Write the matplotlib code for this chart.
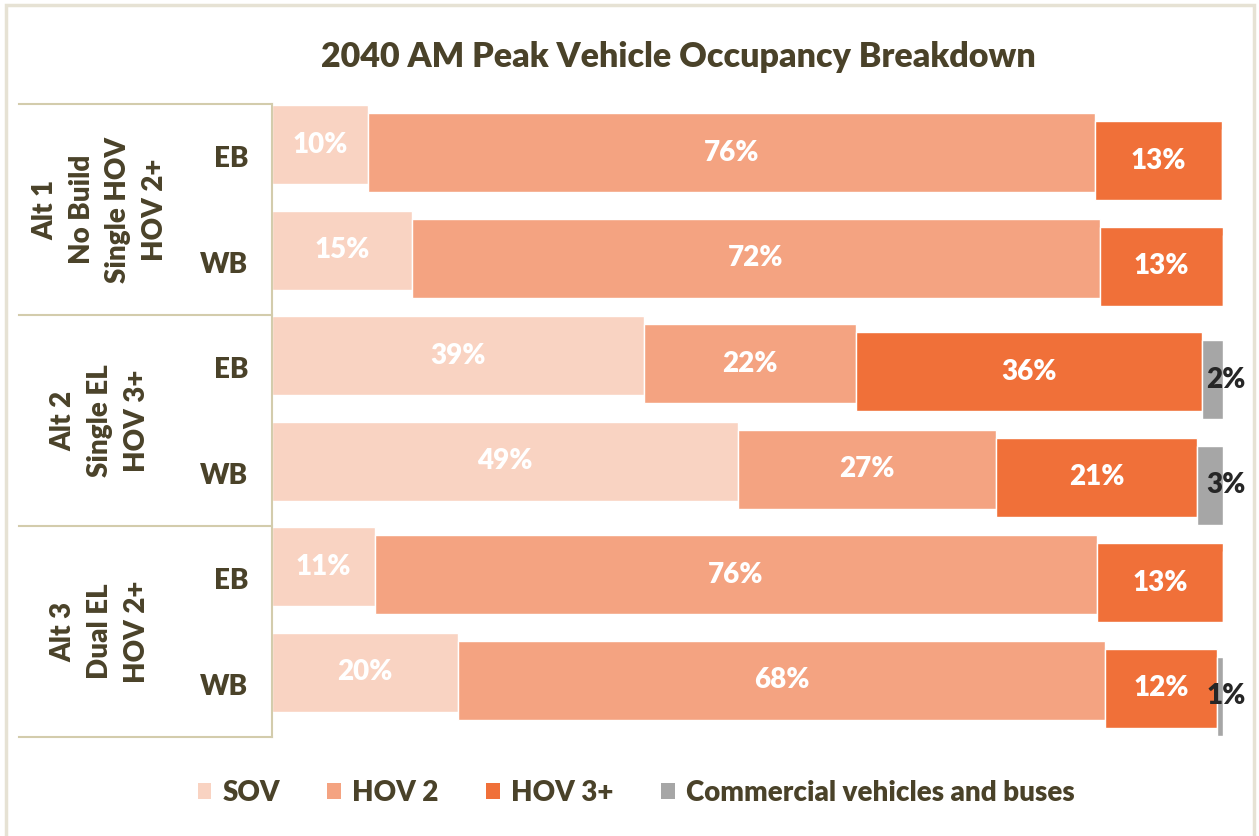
import numpy as np
import matplotlib
matplotlib.use("Agg")
import matplotlib.pyplot as plt
from matplotlib.patches import Rectangle, Patch

plt.rcParams['font.family'] = ['Lato', 'DejaVu Sans']
WT = 'heavy'

# data (percent of vehicles)
directions = ['EB', 'WB', 'EB', 'WB', 'EB', 'WB']
groups = ['Alt 1\nNo Build\nSingle HOV\nHOV 2+',
          'Alt 2\nSingle EL\nHOV 3+',
          'Alt 3\nDual EL\nHOV 2+']
sov = [10.1, 14.7, 39.1, 49.0, 10.8, 19.6]
hov2 = [76.4, 72.4, 22.3, 27.1, 76.0, 68.0]
hov3 = [13.4, 12.9, 36.4, 21.2, 13.2, 11.8]
comm = [0.0, 0.0, 2.2, 2.7, 0.0, 0.6]

series = [('SOV', sov), ('HOV 2', hov2), ('HOV 3+', hov3),
          ('Commercial vehicles and buses', comm)]
colors = ['#F9D3C2', '#F4A381', '#F07039', '#A6A6A6']
offsets = [-0.114, -0.038, 0.038, 0.114]   # each series shifted down a bit
txt_col = '#4A4229'
line_col = '#D3CCAC'

W, H = 1259, 836
fig = plt.figure(figsize=(W / 100, H / 100), dpi=100)
ax = fig.add_axes([272 / W, 1 - 737 / H, 951 / W, 633 / H])

y = np.arange(len(directions))
left = np.zeros(len(directions))
for k, (name, vals) in enumerate(series):
    vals = np.array(vals)
    ax.barh(y + offsets[k], vals, left=left, height=0.75, color=colors[k],
            edgecolor='white', linewidth=1, label=name)
    for i, v in enumerate(vals):
        if v <= 0:
            continue
        if k < 3:
            ax.text(left[i] + v / 2, y[i] + offsets[k], f'{v:.0f}%', ha='center',
                    va='center', color='white', fontsize=20, fontweight=WT)
        else:
            ax.text(left[i] + v + 0.3, y[i] + offsets[k], f'{v:.0f}%', ha='center',
                    va='center', color='#262626', fontsize=20, fontweight=WT)
    left += vals

ax.set_xlim(0, 100)
ax.set_ylim(len(directions) - 0.5, -0.5)
ax.set_yticks(y)
ax.set_yticklabels(directions, fontsize=20, fontweight=WT, color=txt_col)
ax.tick_params(axis='y', length=0, pad=17)
ax.set_xticks([])
for s in ['top', 'right', 'bottom']:
    ax.spines[s].set_visible(False)
ax.spines['left'].set_color(line_col)
ax.spines['left'].set_linewidth(1.5)

# group brackets on the left
tr = ax.get_yaxis_transform()
x0 = (19 - 272) / 951
for b in [-0.5, 1.5, 3.5, 5.5]:
    ax.plot([x0, 0], [b, b], color=line_col, lw=1.5, transform=tr, clip_on=False)
for g, name in enumerate(groups):
    ax.text((100 - 272) / 951, 2 * g + 0.5, name, transform=tr, rotation=90,
            ha='center', va='center', multialignment='center', fontsize=20,
            fontweight=WT, color=txt_col, linespacing=1.5)

fig.text(678 / W, 1 - 57 / H, '2040 AM Peak Vehicle Occupancy Breakdown',
         ha='center', va='center', fontsize=24.5, fontweight=WT, color=txt_col)

handles = [Patch(facecolor=c, edgecolor='none') for c in colors]
fig.legend(handles, [s[0] for s in series], loc='center',
           bbox_to_anchor=(636 / W, 1 - 793 / H), ncol=4, frameon=False,
           prop={'size': 20, 'weight': WT}, labelcolor=txt_col,
           handlelength=0.5, handleheight=0.5, handletextpad=0.4, columnspacing=1.7)

fig.patches.append(Rectangle((5.5 / W, -0.05), 1248 / W, 1.05 - 5.5 / H,
                             transform=fig.transFigure, fill=False,
                             edgecolor='#E6E2D4', linewidth=2.5))

fig.savefig('out.png', dpi=100)
